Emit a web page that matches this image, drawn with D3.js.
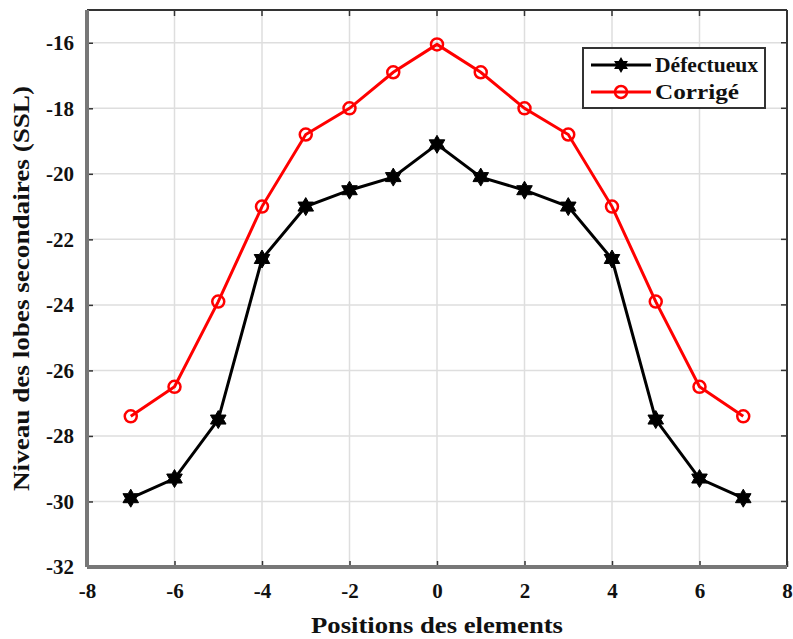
<!DOCTYPE html>
<html>
<head>
<meta charset="utf-8">
<script src="https://cdn.jsdelivr.net/npm/d3@7"></script>
<style>
  html, body { margin: 0; padding: 0; background: #fff; }
  svg text { font-family: "Liberation Serif", "DejaVu Serif", serif; font-weight: bold; }
</style>
</head>
<body>
<svg id="chart" width="793" height="639"></svg>
<script>
// Element positions and side-lobe levels (dB)
const positions = [-7, -6, -5, -4, -3, -2, -1, 0, 1, 2, 3, 4, 5, 6, 7];
const defectueux = [-29.9, -29.3, -27.5, -22.6, -21.0, -20.5, -20.1, -19.1, -20.1, -20.5, -21.0, -22.6, -27.5, -29.3, -29.9];
const corrige = [-27.4, -26.5, -23.9, -21.0, -18.8, -18.0, -16.9, -16.05, -16.9, -18.0, -18.8, -21.0, -23.9, -26.5, -27.4];
const xTicks = [-8, -6, -4, -2, 0, 2, 4, 6, 8];
const yTicks = [-32, -30, -28, -26, -24, -22, -20, -18, -16];
const seriesNames = ["Défectueux", "Corrigé"];

const svg = d3.select("#chart");
const m = { left: 87, right: 6, top: 10, bottom: 72 };
const W = 793, H = 639;
const x = d3.scaleLinear().domain([-8, 8]).range([m.left, W - m.right]);
const y = d3.scaleLinear().domain([-32, -15]).range([H - m.bottom, m.top]);

// grid
const grid = svg.append("g");
grid.selectAll("line.gx").data(xTicks).join("line")
  .attr("x1", d => x(d)).attr("x2", d => x(d))
  .attr("y1", y(-32)).attr("y2", y(-15))
  .attr("stroke", "#dedede").attr("stroke-width", 1.5);
grid.selectAll("line.gy").data(yTicks).join("line")
  .attr("x1", x(-8)).attr("x2", x(8))
  .attr("y1", d => y(d)).attr("y2", d => y(d))
  .attr("stroke", "#dedede").attr("stroke-width", 1.5);

// axes with inward ticks; labels keep a plain hyphen
const fmt = d => String(d);
const xAxis = d3.axisBottom(x).tickValues(xTicks).tickFormat(fmt).tickSizeInner(-6).tickSizeOuter(0).tickPadding(16);
const yAxis = d3.axisLeft(y).tickValues(yTicks).tickFormat(fmt).tickSizeInner(-6).tickSizeOuter(0).tickPadding(13);
const gx = svg.append("g").attr("transform", `translate(0,${y(-32)})`).call(xAxis);
const gy = svg.append("g").attr("transform", `translate(${x(-8)},0)`).call(yAxis);
[gx, gy].forEach(g => {
  g.select(".domain").remove();
  g.selectAll(".tick line").attr("stroke", "#333").attr("stroke-width", 1.5);
  g.selectAll(".tick text").attr("font-size", 21).attr("fill", "#111")
    .style("font-family", "'Liberation Serif', serif").style("font-weight", "bold");
});

// top-right ticks
svg.append("g").selectAll("line").data(xTicks).join("line")
  .attr("x1", d => x(d)).attr("x2", d => x(d)).attr("y1", y(-15)).attr("y2", y(-15) + 6)
  .attr("stroke", "#333").attr("stroke-width", 1.5);
svg.append("g").selectAll("line").data(yTicks).join("line")
  .attr("x1", x(8)).attr("x2", x(8) - 6).attr("y1", d => y(d)).attr("y2", d => y(d))
  .attr("stroke", "#333").attr("stroke-width", 1.5);

// frame
svg.append("line").attr("x1", x(-8)).attr("x2", x(8)).attr("y1", y(-15)).attr("y2", y(-15))
  .attr("stroke", "#333").attr("stroke-width", 2);
svg.append("line").attr("x1", x(8)).attr("x2", x(8)).attr("y1", y(-15)).attr("y2", y(-32))
  .attr("stroke", "#333").attr("stroke-width", 2);
svg.append("line").attr("x1", x(-8)).attr("x2", x(-8)).attr("y1", y(-15)).attr("y2", y(-32))
  .attr("stroke", "#777").attr("stroke-width", 4);
svg.append("line").attr("x1", x(-8)).attr("x2", x(8)).attr("y1", y(-32)).attr("y2", y(-32))
  .attr("stroke", "#777").attr("stroke-width", 4);

// series
const line = d3.line().x(d => x(d[0])).y(d => y(d[1]));
const defData = positions.map((p, i) => [p, defectueux[i]]);
const corData = positions.map((p, i) => [p, corrige[i]]);

svg.append("path").datum(corData).attr("d", line)
  .attr("fill", "none").attr("stroke", "#ff0000").attr("stroke-width", 3);
svg.append("path").datum(defData).attr("d", line)
  .attr("fill", "none").attr("stroke", "#000").attr("stroke-width", 3);

// six-pointed star marker
function hexagram(r) {
  const pts = [];
  for (let i = 0; i < 12; i++) {
    const a = -Math.PI / 2 + i * Math.PI / 6;
    const rr = i % 2 === 0 ? r : r * 0.58;
    pts.push([rr * Math.cos(a), rr * Math.sin(a)]);
  }
  return "M" + pts.map(p => p.join(",")).join("L") + "Z";
}

svg.append("g").selectAll("circle").data(corData).join("circle")
  .attr("cx", d => x(d[0])).attr("cy", d => y(d[1])).attr("r", 6)
  .attr("fill", "none").attr("stroke", "#ff0000").attr("stroke-width", 2.5);
svg.append("g").selectAll("path").data(defData).join("path")
  .attr("transform", d => `translate(${x(d[0])},${y(d[1])})`)
  .attr("d", hexagram(9)).attr("fill", "#000").attr("stroke", "#000").attr("stroke-width", 1);

// axis titles
svg.append("text").attr("x", x(0)).attr("y", 633).attr("text-anchor", "middle")
  .attr("font-size", 24).attr("textLength", 252).attr("lengthAdjust", "spacingAndGlyphs")
  .attr("fill", "#111").text("Positions des elements");
svg.append("text").attr("transform", `translate(29,${(y(-32) + y(-15)) / 2}) rotate(-90)`)
  .attr("text-anchor", "middle").attr("font-size", 24).attr("textLength", 405)
  .attr("lengthAdjust", "spacingAndGlyphs").attr("fill", "#111")
  .text("Niveau des lobes secondaires (SSL)");

// legend
const lg = svg.append("g").attr("transform", "translate(583,48)");
lg.append("rect").attr("width", 182).attr("height", 60).attr("fill", "#fff")
  .attr("stroke", "#333").attr("stroke-width", 2);
const colors = ["#000", "#ff0000"];
const legendWidths = [103, 84];
seriesNames.forEach((name, i) => {
  const cy = 17 + i * 27;
  lg.append("line").attr("x1", 8).attr("x2", 68).attr("y1", cy).attr("y2", cy)
    .attr("stroke", colors[i]).attr("stroke-width", 3);
  if (i === 0) {
    lg.append("path").attr("transform", `translate(38,${cy})`).attr("d", hexagram(8)).attr("fill", "#000");
  } else {
    lg.append("circle").attr("cx", 38).attr("cy", cy).attr("r", 6)
      .attr("fill", "none").attr("stroke", "#ff0000").attr("stroke-width", 2.5);
  }
  lg.append("text").attr("x", 72).attr("y", cy + 7).attr("font-size", 20)
    .attr("textLength", legendWidths[i]).attr("lengthAdjust", "spacingAndGlyphs")
    .attr("fill", "#111").text(name);
});
</script>
</body>
</html>
